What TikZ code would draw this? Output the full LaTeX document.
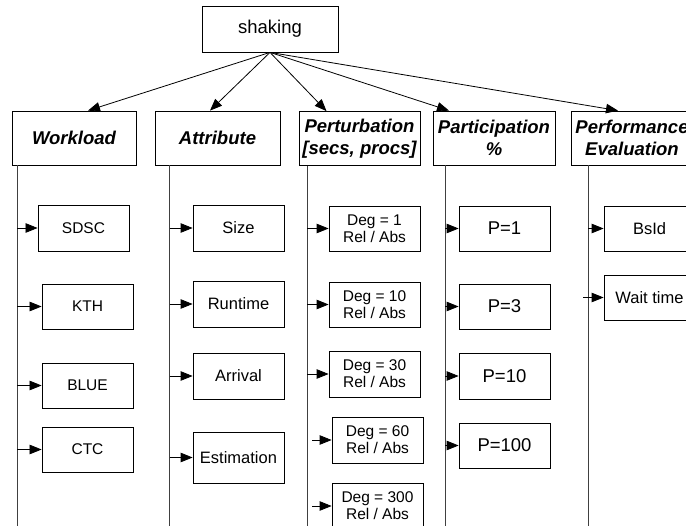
\documentclass[tikz,border=0pt]{standalone}
\usepackage{fontspec}
\setmainfont{Liberation Sans}
\usetikzlibrary{arrows.meta}

\begin{document}
\begin{tikzpicture}[x=1bp, y=-1bp,
  box/.style={draw, line width=0.8bp, inner sep=0pt, align=center, minimum width=91bp, minimum height=45bp},
  head/.style={box, minimum width=123bp, minimum height=54bp, font=\fontsize{18.5bp}{22bp}\selectfont\bfseries\itshape},
  tip/.style={-{Triangle[length=12bp,width=9.5bp]}, line width=0.8bp},
  stem/.style={line width=0.8bp, black!75}]
\useasboundingbox (0,0) rectangle (686,526);
\clip (0,0) rectangle (686,526);

% root and headers
\node[box, minimum width=136bp, minimum height=46bp, font=\fontsize{18.5bp}{22bp}\selectfont] (shaking) at (270,29) {shaking};
\node[head, minimum width=124bp] (workload) at (74,138) {Workload};
\node[head, minimum width=125bp] (attribute) at (217.5,138) {Attribute};
\node[head, minimum width=121bp] (perturb) at (359.5,138.5) {Perturbation\\{[secs, procs]}};
\node[head, minimum width=122bp] (particip) at (494,138) {Participation\\\%};
\node[head, minimum width=122bp] (perform) at (632,138) {Performance\\Evaluation};

\draw[tip] (shaking.south) -- ([xshift=14bp]workload.north);
\draw[tip] (shaking.south) -- ([xshift=-7.5bp]attribute.north);
\draw[tip] (shaking.south) -- ([xshift=-33bp]perturb.north);
\draw[tip] (shaking.south) -- ([xshift=-45bp]particip.north);
\draw[tip] (shaking.south) -- ([xshift=-14bp]perform.north);

% column stems
\coordinate (wlbot) at (17,526);
\coordinate (atbot) at (169.5,526);
\coordinate (ptbot) at (307,526);
\coordinate (pcbot) at (445,526);
\coordinate (pfbot) at (588,526);
\draw[stem] (workload.south -| wlbot) -- (wlbot);
\draw[stem] (attribute.south -| atbot) -- (atbot);
\draw[stem] (perturb.south -| ptbot) -- (ptbot);
\draw[stem] (particip.south -| pcbot) -- (pcbot);
\draw[stem] (perform.south -| pfbot) -- (pfbot);

% Workload
\begin{scope}[font=\fontsize{15.5bp}{18bp}\selectfont]
\node[box, minimum height=46bp] (sdsc) at (83.5,228) {SDSC};
\node[box] (kth) at (87.5,306.5) {KTH};
\node[box] (blue) at (87.5,385.5) {BLUE};
\node[box] (ctc) at (87.5,449.5) {CTC};
\end{scope}
\foreach \n in {sdsc, kth, blue, ctc}
  \draw[tip] (wlbot |- \n.west) -- (\n.west);

% Attribute
\begin{scope}[font=\fontsize{16.5bp}{19bp}\selectfont]
\node[box, minimum height=46bp] (size) at (238.5,228) {Size};
\node[box, minimum height=46bp] (runtime) at (238.5,304) {Runtime};
\node[box, minimum height=46bp] (arrival) at (238.5,376) {Arrival};
\node[box, minimum height=51bp] (estim) at (238.5,457.5) {Estimation};
\end{scope}
\foreach \n in {size, runtime, arrival, estim}
  \draw[tip] (atbot |- \n.west) -- (\n.west);

% Perturbation
\begin{scope}[font=\fontsize{15.5bp}{17bp}\selectfont]
\node[box] (deg1) at (374.5,228.5) {Deg = 1\\Rel / Abs};
\node[box] (deg10) at (374.5,304.5) {Deg = 10\\Rel / Abs};
\node[box, minimum height=46bp] (deg30) at (374.5,374) {Deg = 30\\Rel / Abs};
\node[box, minimum height=46bp] (deg60) at (377.5,440) {Deg = 60\\Rel / Abs};
\node[box, minimum height=46bp] (deg300) at (377.5,506) {Deg = 300\\Rel / Abs};
\end{scope}
\foreach \n in {deg1, deg10, deg30}
  \draw[tip] (ptbot |- \n.west) -- (\n.west);
\foreach \n in {deg60, deg300}
  \draw[tip] ([xshift=5bp]ptbot |- \n.west) -- (\n.west);

% Participation
\begin{scope}[font=\fontsize{18.5bp}{22bp}\selectfont]
\node[box] (p1) at (504.5,228.5) {P=1};
\node[box] (p3) at (504.5,306.5) {P=3};
\node[box, minimum height=46bp] (p10) at (504.5,376) {P=10};
\node[box] (p100) at (504.5,445.5) {P=100};
\end{scope}
\foreach \n in {p1, p3, p10, p100}
  \draw[tip] (pcbot |- \n.west) -- (\n.west);

% Performance evaluation
\begin{scope}[font=\fontsize{16.5bp}{19bp}\selectfont]
\node[box] (bsid) at (649.5,228.5) {BsId};
\node[box] (wait) at (649.5,297.5) {Wait time};
\end{scope}
\draw[tip] (pfbot |- bsid.west) -- (bsid.west);
\draw[tip] ([xshift=-5bp]pfbot |- wait.west) -- (wait.west);
\end{tikzpicture}
\end{document}
